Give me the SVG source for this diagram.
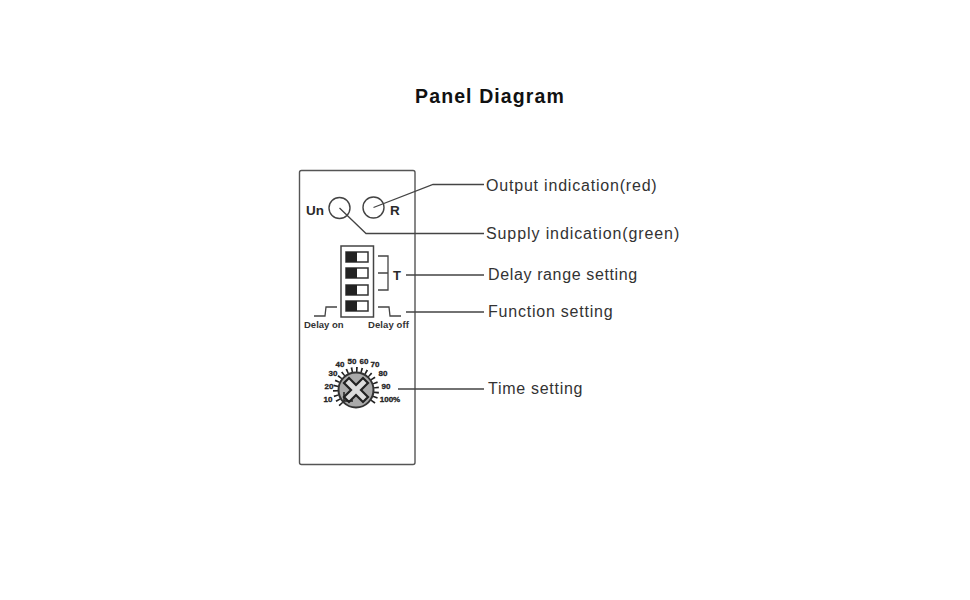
<svg xmlns="http://www.w3.org/2000/svg" width="970" height="600" viewBox="0 0 970 600">
<style>
text{font-family:"Liberation Sans",Arial,sans-serif;fill:#333}
.l{font-size:16px}
.b{font-weight:bold;fill:#2a2a2a}
.s{font-size:9.500px;font-weight:bold;fill:#333}
.t{font-size:8px;font-weight:bold;fill:#222;stroke:#222;stroke-width:.3;text-anchor:middle}
.c{fill:none;stroke:#444;stroke-width:1.300}
</style>
<rect width="970" height="600" fill="#fff"/>
<text id="title" x="490" y="103" text-anchor="middle" class="b" style="font-size:19.500px;letter-spacing:1.100px;fill:#111">Panel Diagram</text>
<g id="panel"><rect x="299.500" y="170.500" width="115.500" height="294" rx="2" fill="#fff" stroke="#555" stroke-width="1.400"/></g>
<g id="un"><circle cx="339.500" cy="208" r="10.500" fill="#fff" stroke="#444" stroke-width="1.400"/><text x="306" y="215" class="b" style="font-size:13.500px">Un</text></g>
<g id="r"><circle cx="373.500" cy="207.500" r="10.500" fill="#fff" stroke="#444" stroke-width="1.400"/><text x="390" y="215" class="b" style="font-size:13.500px">R</text></g>
<g id="dip">
<rect x="341" y="246" width="32.500" height="71" fill="#fff" stroke="#444" stroke-width="1.500"/>
<g fill="#fff" stroke="#333" stroke-width="1.500">
<rect x="346" y="252" width="22" height="10"/><rect x="346" y="268" width="22" height="10"/><rect x="346" y="285" width="22" height="10"/><rect x="346" y="301" width="22" height="10"/>
</g>
<g fill="#222"><rect x="346" y="252" width="11" height="10"/><rect x="346" y="268" width="11" height="10"/><rect x="346" y="285" width="11" height="10"/><rect x="346" y="301" width="11" height="10"/></g>
<path class="c" d="M378 256H388V290H378M378 273H388"/>
<text x="393" y="280" class="b" style="font-size:13px">T</text>
</g>
<g id="func">
<path class="c" d="M314 316H325L326 307H337M378 307H389L390 316H401"/>
<text x="304" y="328" class="s">Delay on</text><text x="368" y="328" class="s" style="letter-spacing:.1px">Delay off</text>
</g>
<g id="dial">
<path d="M341.500 404.500A20.500 20.500 0 1 1 370.500 404.500" fill="none" stroke="#222" stroke-width="5" stroke-dasharray="1.600 3.200"/>
<circle cx="356" cy="390" r="17.500" fill="#aaa" stroke="#333" stroke-width="2"/>
<path d="M349 378L356 385L363 378L368 383L361 390L368 397L363 402L356 395L349 402L344 397L351 390L344 383Z" fill="#ddd" stroke="#222" stroke-width="2.200"/>
<path d="M344 392V401H353" fill="none" stroke="#222" stroke-width="1.500"/>
<text x="328" y="402" class="t">10</text><text x="329" y="389" class="t">20</text><text x="333" y="376" class="t">30</text><text x="340" y="367" class="t">40</text><text x="352" y="364" class="t">50</text><text x="364" y="364" class="t">60</text><text x="375" y="367" class="t">70</text><text x="383" y="376" class="t">80</text><text x="386" y="389" class="t">90</text><text x="390" y="402" class="t">100%</text>
</g>
<g id="connectors">
<path class="c" d="M373.500 207.500L433 184.500H484"/>
<path class="c" d="M339.500 208L366 233.500H484"/>
<path class="c" d="M406 275H484M406 312H484M398 389H484"/>
</g>
<g id="labels">
<text x="486" y="191" class="l" style="letter-spacing:.8px">Output indication(red)</text>
<text x="486" y="239" class="l" style="letter-spacing:.9px">Supply indication(green)</text>
<text x="488" y="280" class="l" style="letter-spacing:.63px">Delay range setting</text>
<text x="488" y="317" class="l" style="letter-spacing:.78px">Function setting</text>
<text x="488" y="394" class="l" style="letter-spacing:.72px">Time setting</text>
</g>
</svg>
